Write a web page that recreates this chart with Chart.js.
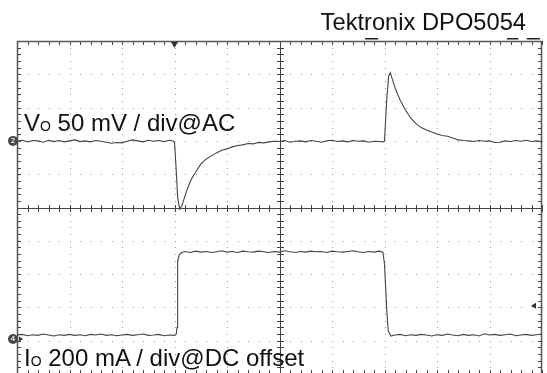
<!DOCTYPE html>
<html>
<head>
<meta charset="utf-8">
<script src="https://cdn.jsdelivr.net/npm/chart.js@4.4.0/dist/chart.umd.min.js"></script>
<style>
  html, body { margin: 0; padding: 0; background: #fff; overflow: hidden; }
  #wrap { position: absolute; left: 0; top: 0; width: 547px; height: 375px; }
  .lbl { position: absolute; font-family: "Liberation Sans", Arial, sans-serif; color: #111; line-height: 24px; font-size: 24px; white-space: nowrap; }
  .lbl .sub { font-size: 14px; }
  #title { right: 21px; top: 11px; font-size: 23.7px; line-height: 23.5px; }
  #vo { left: 24px; top: 111px; }
  #io { left: 24px; top: 346px; }
</style>
</head>
<body>
<div id="wrap"><canvas id="scope" width="547" height="375"></canvas></div>
<div class="lbl" id="title">Tektronix DPO5054</div>
<div class="lbl" id="vo">V<span class="sub">O</span> 50 mV / div@AC</div>
<div class="lbl" id="io">I<span class="sub">O</span> 200 mA / div@DC offset</div>
<script>
// tijd in divisies (10 div horizontaal), niveau in divisies (-5..5)
const voTime = [
  0, 0.1, 0.2, 0.3, 0.4, 0.5, 0.6, 0.7, 0.8, 0.9,
  1.0, 1.1, 1.2, 1.3, 1.4, 1.5, 1.6, 1.7, 1.8, 1.9,
  2.0, 2.1, 2.2, 2.3, 2.4, 2.5, 2.6, 2.7, 2.8, 2.9,
  2.97, 3.0, 3.03, 3.06, 3.1, 3.14, 3.2, 3.25, 3.3, 3.35, 3.4,
  3.5, 3.6, 3.7, 3.8, 3.9, 4.0, 4.1, 4.2, 4.3, 4.4,
  4.5, 4.6, 4.7, 4.8, 4.9, 5.0, 5.1, 5.2, 5.3, 5.4,
  5.5, 5.6, 5.7, 5.8, 5.9, 6.0, 6.1, 6.2, 6.3, 6.4,
  6.5, 6.6, 6.7, 6.8, 6.9, 6.97, 7.0, 7.04, 7.08, 7.11, 7.15, 7.2, 7.25,
  7.3, 7.4, 7.5, 7.6, 7.7, 7.8, 7.9, 8.0, 8.1, 8.2,
  8.3, 8.4, 8.5, 8.6, 8.7, 8.8, 8.9, 9.0, 9.1, 9.2,
  9.3, 9.4, 9.5, 9.6, 9.7, 9.8, 9.9, 10.0
];
const voLevel = [
  1.99, 2.02, 1.97, 2.01, 2.00, 1.96, 2.02, 1.98, 2.01, 1.97,
  2.00, 2.03, 1.98, 2.00, 1.97, 2.01, 1.99, 1.96, 1.93, 1.95,
  1.94, 1.99, 2.03, 2.00, 1.97, 2.02, 1.99, 2.01, 1.98, 2.02,
  2.00, 1.95, 1.20, 0.30, -0.05, 0.05, 0.35, 0.58, 0.78, 0.93, 1.05,
  1.30, 1.45, 1.55, 1.64, 1.72, 1.76, 1.82, 1.86, 1.88, 1.92,
  1.91, 1.95, 1.94, 1.97, 1.99, 1.98, 2.01, 1.96, 1.99, 2.00,
  1.97, 2.01, 1.99, 1.96, 2.00, 2.02, 1.98, 2.00, 1.97, 2.01,
  1.99, 2.00, 1.96, 1.99, 1.98, 1.97, 2.00, 3.20, 3.95, 4.05, 3.85, 3.60, 3.40,
  3.22, 2.93, 2.68, 2.52, 2.40, 2.33, 2.27, 2.21, 2.16, 2.14,
  2.09, 2.03, 2.01, 2.00, 1.98, 2.01, 1.99, 2.00, 1.95, 1.96,
  2.00, 1.98, 2.01, 1.99, 2.02, 1.98, 2.00, 1.97
];

const ioTime = [
  0, 0.1, 0.2, 0.3, 0.4, 0.5, 0.6, 0.7, 0.8, 0.9,
  1.0, 1.1, 1.2, 1.3, 1.4, 1.5, 1.6, 1.7, 1.8, 1.9,
  2.0, 2.1, 2.2, 2.3, 2.4, 2.5, 2.6, 2.7, 2.8, 2.9,
  3.0, 3.03, 3.05, 3.06, 3.09, 3.13, 3.2, 3.3, 3.4,
  3.5, 3.6, 3.7, 3.8, 3.9, 4.0, 4.1, 4.2, 4.3, 4.4,
  4.5, 4.6, 4.7, 4.8, 4.9, 5.0, 5.1, 5.2, 5.3, 5.4,
  5.5, 5.6, 5.7, 5.8, 5.9, 6.0, 6.1, 6.2, 6.3, 6.4,
  6.5, 6.6, 6.7, 6.8, 6.9, 6.97, 7.0, 7.04, 7.07, 7.12, 7.2,
  7.3, 7.4, 7.5, 7.6, 7.7, 7.8, 7.9, 8.0, 8.1, 8.2,
  8.3, 8.4, 8.5, 8.6, 8.7, 8.8, 8.9, 9.0, 9.1, 9.2,
  9.3, 9.4, 9.5, 9.6, 9.7, 9.8, 9.9, 10.0
];
const ioLevel = [
  -3.83, -3.81, -3.85, -3.82, -3.84, -3.80, -3.83, -3.86, -3.82, -3.84,
  -3.81, -3.84, -3.82, -3.85, -3.81, -3.83, -3.80, -3.84, -3.82, -3.85,
  -3.83, -3.81, -3.84, -3.82, -3.80, -3.84, -3.83, -3.81, -3.85, -3.83,
  -3.84, -3.82, -3.60, -1.60, -1.42, -1.36, -1.32, -1.35, -1.31,
  -1.34, -1.32, -1.35, -1.33, -1.30, -1.34, -1.32, -1.35, -1.31, -1.33,
  -1.34, -1.31, -1.33, -1.35, -1.32, -1.34, -1.30, -1.33, -1.35, -1.32,
  -1.34, -1.31, -1.33, -1.32, -1.35, -1.31, -1.33, -1.34, -1.32, -1.30,
  -1.33, -1.35, -1.32, -1.34, -1.31, -1.34, -1.70, -3.00, -3.70, -3.86, -3.83,
  -3.81, -3.85, -3.82, -3.84, -3.81, -3.83, -3.86, -3.82, -3.84, -3.80,
  -3.83, -3.85, -3.81, -3.84, -3.82, -3.86, -3.79, -3.83, -3.81, -3.84,
  -3.82, -3.80, -3.85, -3.83, -3.81, -3.84, -3.82, -3.80
];

// kanaal-offsets en trigger
const ch2Offset = 2.0;
const ch4Offset = -3.95;
const triggerTime = 3.0;
const triggerLevel = -2.95;

const voPoints = voTime.map((t, i) => ({ x: t, y: voLevel[i] }));
const ioPoints = ioTime.map((t, i) => ({ x: t, y: ioLevel[i] }));

// Raster van de scope (graticule) + markers
const graticule = {
  id: 'graticule',
  beforeDatasetsDraw(chart) {
    const { ctx, chartArea: a } = chart;
    const xs = chart.scales.x, ys = chart.scales.y;
    const X = v => Math.round(xs.getPixelForValue(v));
    const Y = v => Math.round(ys.getPixelForValue(v));
    ctx.save();

    // stippellijnen
    ctx.fillStyle = '#999';
    for (let d = 1; d < 10; d++) {
      if (d === 5) continue;
      for (let s = 0; s <= 50; s++) ctx.fillRect(X(d), Y(-5 + s * 0.2), 1, 1);
    }
    for (let d = -4; d <= 4; d++) {
      if (d === 0) continue;
      for (let s = 0; s <= 50; s++) ctx.fillRect(X(s * 0.2), Y(d), 1, 1);
    }

    // middenassen met streepjes
    ctx.strokeStyle = '#444';
    ctx.lineWidth = 1;
    ctx.beginPath();
    ctx.moveTo(X(5) + 0.5, a.top); ctx.lineTo(X(5) + 0.5, a.bottom);
    ctx.moveTo(a.left, Y(0) + 0.5); ctx.lineTo(a.right, Y(0) + 0.5);
    for (let s = 0; s <= 50; s++) {
      const px = X(s * 0.2) + 0.5, py = Y(-5 + s * 0.2) + 0.5;
      ctx.moveTo(px, Y(0) - 3); ctx.lineTo(px, Y(0) + 4);
      ctx.moveTo(X(5) - 3, py); ctx.lineTo(X(5) + 4, py);
      // rand-streepjes
      ctx.moveTo(px, a.top); ctx.lineTo(px, a.top + 4);
      ctx.moveTo(px, a.bottom); ctx.lineTo(px, a.bottom - 4);
      ctx.moveTo(a.left, py); ctx.lineTo(a.left + 4, py);
      ctx.moveTo(a.right, py); ctx.lineTo(a.right - 4, py);
    }
    ctx.stroke();

    // kader
    ctx.strokeStyle = '#555';
    ctx.lineWidth = 1.5;
    ctx.strokeRect(a.left + 0.5, a.top + 0.5, a.right - a.left - 1, a.bottom - a.top);
    ctx.restore();
  },
  afterDatasetsDraw(chart) {
    const { ctx, chartArea: a } = chart;
    const xs = chart.scales.x, ys = chart.scales.y;
    ctx.save();
    // kanaalmarkers
    const marker = (lvl, txt) => {
      const py = ys.getPixelForValue(lvl);
      ctx.fillStyle = '#484848';
      ctx.beginPath(); ctx.arc(13, py, 5, 0, Math.PI * 2); ctx.fill();
      ctx.fillStyle = '#ddd';
      ctx.font = 'bold 7px "DejaVu Sans"';
      ctx.textAlign = 'center'; ctx.textBaseline = 'middle';
      ctx.fillText(txt, 13, py + 0.5);
    };
    marker(ch2Offset, '2');
    marker(ch4Offset, '4');
    ctx.fillStyle = '#333';
    let py = ys.getPixelForValue(ch4Offset);
    ctx.beginPath(); ctx.moveTo(19, py - 2.5); ctx.lineTo(23, py); ctx.lineTo(19, py + 2.5); ctx.fill();

    // trigger positie en niveau
    const tx = xs.getPixelForValue(triggerTime);
    ctx.beginPath(); ctx.moveTo(tx - 3.5, a.top + 1); ctx.lineTo(tx + 3.5, a.top + 1); ctx.lineTo(tx, a.top + 7); ctx.fill();
    py = ys.getPixelForValue(triggerLevel);
    ctx.beginPath(); ctx.moveTo(a.right - 11, py); ctx.lineTo(a.right - 6, py - 3); ctx.lineTo(a.right - 6, py + 3); ctx.fill();

    // streepjes boven het kader
    ctx.fillStyle = '#222';
    [[6.63, 6.88], [9.33, 9.55], [9.71, 9.96]].forEach(([s, e]) => {
      const x0 = xs.getPixelForValue(s), x1 = xs.getPixelForValue(e);
      ctx.fillRect(x0, a.top - 3, x1 - x0, 1.5);
    });
    ctx.restore();
  }
};

const ctx = document.getElementById('scope').getContext('2d');
new Chart(ctx, {
  type: 'line',
  data: {
    datasets: [{
      label: 'Vo',
      data: voPoints,
      borderColor: '#444',
      borderWidth: 1.1,
      pointRadius: 0,
      tension: 0
    }, {
      label: 'Io',
      data: ioPoints,
      borderColor: '#444',
      borderWidth: 1.1,
      pointRadius: 0,
      tension: 0
    }]
  },
  options: {
    responsive: false,
    animation: false,
    devicePixelRatio: 1,
    layout: { padding: { left: 17, right: 5, top: 41, bottom: 1 } },
    plugins: { legend: { display: false }, tooltip: { enabled: false } },
    scales: {
      x: { type: 'linear', min: 0, max: 10, display: false },
      y: { type: 'linear', min: -5, max: 5, display: false }
    }
  },
  plugins: [graticule]
});
</script>
</body>
</html>
